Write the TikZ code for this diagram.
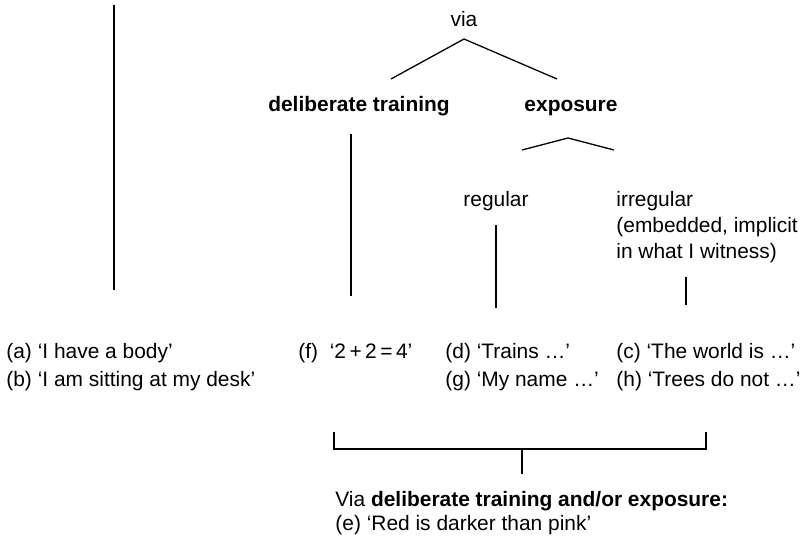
\documentclass[tikz,border=0pt]{standalone}
\usepackage{fontspec}
\setmainfont{Liberation Sans}
\usetikzlibrary{positioning}

\tikzset{
    lbl/.style={inner sep=0pt, anchor=base west},
    mid/.style={inner sep=0pt, anchor=base},
    branch/.style={line width=0.65pt}
}

\begin{document}
\begin{tikzpicture}[x=0.5bp, y=-0.5bp, font=\fontsize{10.5}{13}\selectfont]
\useasboundingbox (0,0) rectangle (810,543);

% Headings of the tree
\node[mid] (via) at (464,27) {via};
\node[mid] (delib) at (359,112) {\textbf{deliberate training}};
\node[mid] (expo) at (571,112) {\textbf{exposure}};
\node[mid] (reg) at (496,207) {regular};
\node[lbl] (irreg) at (616,207) {irregular};
\node[lbl] (irregA) at (616,233) {(embedded, implicit};
\node[lbl] (irregB) at (616,259) {in what I witness)};

% Examples
\node[lbl] (a) at (6,359) {(a) ‘I have a body’};
\node[lbl] (b) at (6,387) {(b) ‘I am sitting at my desk’};
\node[lbl] (f) at (298,359) {(f)\ \ ‘2\,+\,2\,=\,4’};
\node[lbl] (d) at (445,359) {(d) ‘Trains …’};
\node[lbl] (g) at (445,387) {(g) ‘My name …’};
\node[lbl] (c) at (616,359) {(c) ‘The world is …’};
\node[lbl] (h) at (616,387) {(h) ‘Trees do not …’};

% Summary
\node[lbl] (sumA) at (335,507) {Via \textbf{deliberate training and/or exposure:}};
\node[lbl] (sumB) at (335,531) {(e) ‘Red is darker than pink’};

% Line ends
\coordinate (leftTop) at (114,5);
\coordinate (leftBot) at (114,290);
\coordinate (viaTip) at (464,39);
\coordinate (delibEnd) at (391,79);
\coordinate (expoEnd) at (557,79);
\coordinate (delibTop) at (351,134);
\coordinate (delibBot) at (351,296);
\coordinate (expoTip) at (568,138);
\coordinate (regEnd) at (522,150);
\coordinate (irregEnd) at (614,150);
\coordinate (regTop) at (496,225);
\coordinate (regBot) at (496,308);
\coordinate (irregTop) at (686,277);
\coordinate (irregBot) at (686,305);
\coordinate (brL) at (334,432);
\coordinate (brR) at (706,432);
\coordinate (stemTop) at (522,449);
\coordinate (stemBot) at (522,474);

% Branches
\draw[branch] (leftTop) -- (leftBot);
\draw[branch] (delibEnd) -- (viaTip) -- (expoEnd);
\draw[branch] (delibTop) -- (delibBot);
\draw[branch] (regEnd) -- (expoTip) -- (irregEnd);
\draw[branch] (regTop) -- (regBot);
\draw[branch] (irregTop) -- (irregBot);

% Bracket
\draw[branch] (brL) |- (stemTop) -| (brR);
\draw[branch] (stemTop) -- (stemBot);
\end{tikzpicture}
\end{document}
